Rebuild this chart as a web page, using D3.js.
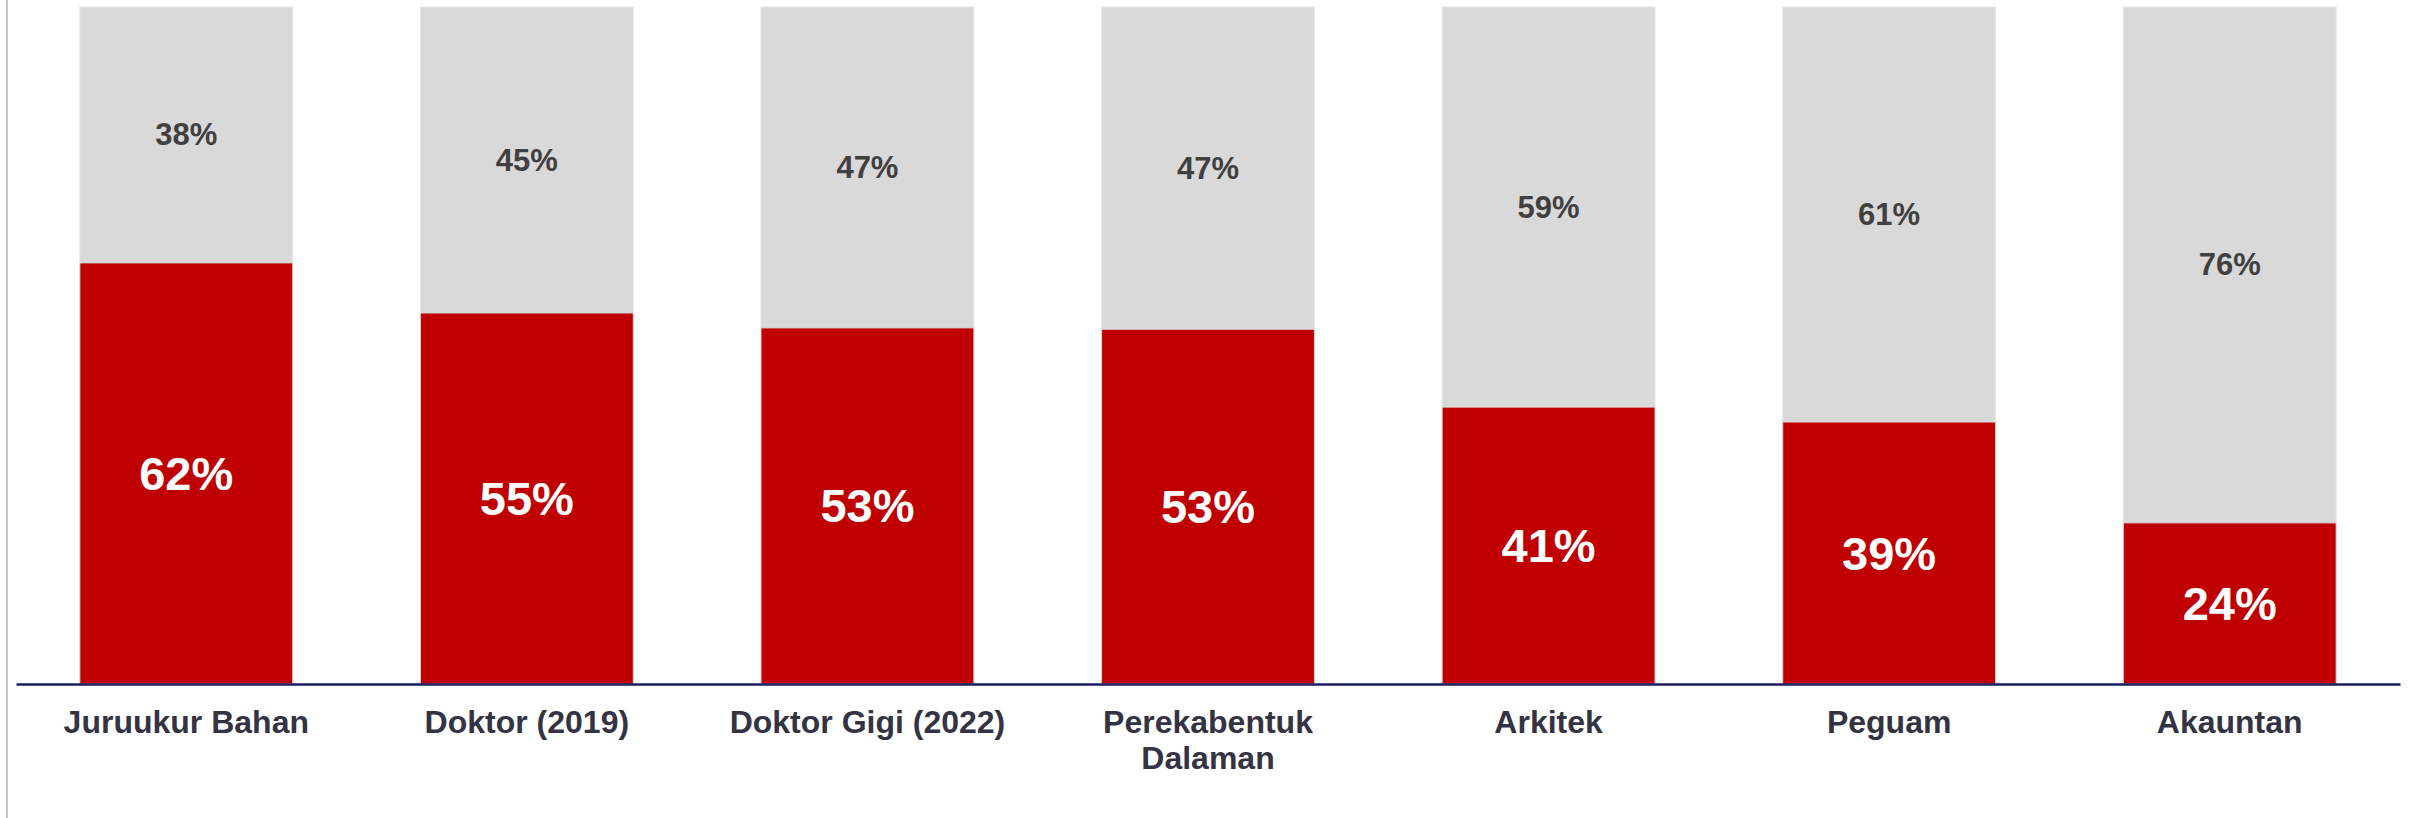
<!DOCTYPE html>
<html>
<head>
<meta charset="utf-8">
<script src="https://cdn.jsdelivr.net/npm/d3@7"></script>
<style>
  html, body { margin: 0; padding: 0; background: #fff; }
  svg { display: block; }
</style>
</head>
<body>
<script>
const categories = ["Juruukur Bahan", "Doktor (2019)", "Doktor Gigi (2022)", "Perekabentuk\nDalaman", "Arkitek", "Peguam", "Akauntan"];
const redValues = [62.2, 54.8, 52.6, 52.4, 40.9, 38.7, 23.8];
const greyValues = [37.8, 45.2, 47.4, 47.6, 59.1, 61.3, 76.2];
const redLabels = ["62%", "55%", "53%", "53%", "41%", "39%", "24%"];
const greyLabels = ["38%", "45%", "47%", "47%", "59%", "61%", "76%"];

const W = 2417, H = 818;
const svg = d3.select("body").append("svg").attr("width", W).attr("height", H);

const x = d3.scaleBand().domain(categories).range([16, 2400]).paddingInner(0.375).paddingOuter(0.1875);
const y = d3.scaleLinear().domain([0, 100]).range([684, 7]);

// left border line
svg.append("line").attr("x1", 7).attr("x2", 7).attr("y1", 0).attr("y2", H)
  .attr("stroke", "#c4c4c4").attr("stroke-width", 2);

const data = categories.map((c, i) => ({ c, r: redValues[i], g: greyValues[i], rl: redLabels[i], gl: greyLabels[i] }));

// grey segments
svg.selectAll("rect.grey").data(data).join("rect").attr("class", "grey")
  .attr("x", d => x(d.c)).attr("width", x.bandwidth())
  .attr("y", d => y(d.r + d.g)).attr("height", d => y(d.r) - y(d.r + d.g))
  .attr("fill", "#d9d9d9").attr("stroke", "#e6e6e6").attr("stroke-width", 1);

// red segments
svg.selectAll("rect.red").data(data).join("rect").attr("class", "red")
  .attr("x", d => x(d.c)).attr("width", x.bandwidth())
  .attr("y", d => y(d.r)).attr("height", d => y(0) - y(d.r))
  .attr("fill", "#c00000").attr("stroke", "#d6d6d6").attr("stroke-width", 1);

// grey labels
svg.selectAll("text.gl").data(data).join("text").attr("class", "gl")
  .attr("x", d => x(d.c) + x.bandwidth() / 2)
  .attr("y", d => (y(d.r + d.g) + y(d.r)) / 2)
  .attr("text-anchor", "middle").attr("dominant-baseline", "central")
  .attr("font-family", "Liberation Sans, Arial, sans-serif").attr("font-weight", "bold")
  .attr("font-size", 31).attr("fill", "#404040")
  .text(d => d.gl);

// red labels
svg.selectAll("text.rl").data(data).join("text").attr("class", "rl")
  .attr("x", d => x(d.c) + x.bandwidth() / 2)
  .attr("y", d => (y(d.r) + y(0)) / 2)
  .attr("text-anchor", "middle").attr("dominant-baseline", "central")
  .attr("font-family", "Liberation Sans, Arial, sans-serif").attr("font-weight", "bold")
  .attr("font-size", 47).attr("fill", "#ffffff")
  .text(d => d.rl);

// axis
const xAxis = d3.axisBottom(x).tickSize(0).tickPadding(0);
const ax = svg.append("g").attr("transform", "translate(0,684)").call(xAxis);
ax.select(".domain").attr("stroke", "#1b1b5e").attr("stroke-width", 2.5);
ax.selectAll(".tick text").remove();
ax.selectAll(".tick").each(function(d) {
  const t = d3.select(this).append("text")
    .attr("text-anchor", "middle")
    .attr("font-family", "Liberation Sans, Arial, sans-serif").attr("font-weight", "bold")
    .attr("font-size", 32).attr("fill", "#333344");
  d.split("\n").forEach((line, i) => {
    t.append("tspan").attr("x", 0).attr("y", 49 + i * 36).text(line);
  });
});
</script>
</body>
</html>
